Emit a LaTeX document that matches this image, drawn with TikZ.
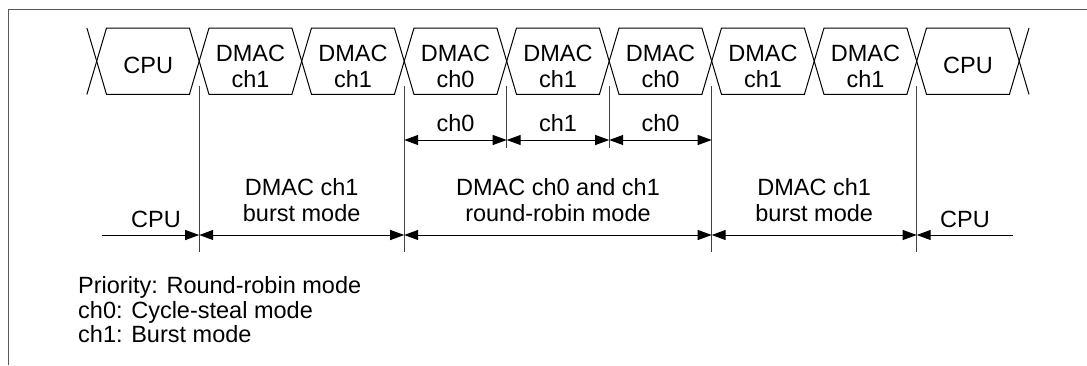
\documentclass[tikz,border=0pt]{standalone}
\usepackage{fontspec}
\setmainfont{Liberation Sans}
\usetikzlibrary{arrows.meta,calc}
\begin{document}
\begin{tikzpicture}[x=1pt,y=-1pt,
  frame/.style={draw=black!65, line width=1.3pt},
  wave/.style={draw=black, line width=1pt, line join=miter},
  tick/.style={draw=black!75, line width=1pt},
  lbl/.style={inner sep=0pt, font=\fontsize{23.5}{26.4}\selectfont, align=center},
  legend/.style={inner sep=0pt, font=\fontsize{23.5}{24.5}\selectfont, align=left},
  tip/.tip={Triangle[length=14pt,width=10pt]},
  dim/.style={draw=black, line width=1pt, tip-tip},
  dimr/.style={draw=black, line width=1pt, -tip},
  diml/.style={draw=black, line width=1pt, tip-}
]
\useasboundingbox (0,0) rectangle (1087,365);
\draw[frame] (8.3,365) -- (8.3,9.3) -- (1087,9.3);

% crossing points of the bus waveform
\foreach \k in {0,...,9}
  \coordinate (c\k) at ({96.7+102.5*\k},61.2);

% bus segments
\foreach \k [evaluate=\k as \n using int(\k+1)] in {0,...,8}
  \draw[wave] (c\k) -- ($(c\k)+(9.8,-33.2)$) -- ($(c\n)+(-9.8,-33.2)$) -- (c\n)
      -- ($(c\n)+(-9.8,33.2)$) -- ($(c\k)+(9.8,33.2)$) -- cycle;
\draw[wave] ($(c0)+(-9.8,-33.2)$) -- (c0) -- ($(c0)+(-9.8,33.2)$);
\draw[wave] ($(c9)+(9.8,-33.2)$) -- (c9) -- ($(c9)+(9.8,33.2)$);

% segment labels (base = baseline of the last line)
\node[lbl, anchor=base] (s1) at (148.3,73.3) {CPU};
\node[lbl, anchor=base] (s2) at (250.5,87.4) {DMAC\\ch1};
\node[lbl, anchor=base] (s3) at (353,87.4) {DMAC\\ch1};
\node[lbl, anchor=base] (s4) at (455.5,87.4) {DMAC\\ch0};
\node[lbl, anchor=base] (s5) at (558,87.4) {DMAC\\ch1};
\node[lbl, anchor=base] (s6) at (660.5,87.4) {DMAC\\ch0};
\node[lbl, anchor=base] (s7) at (763,87.4) {DMAC\\ch1};
\node[lbl, anchor=base] (s8) at (865.5,87.4) {DMAC\\ch1};
\node[lbl, anchor=base] (s9) at (968,73.3) {CPU};

% vertical marker lines
\foreach \k in {1,3,4,5,6,8} {
  \path (c\k) ++(0,24.8) coordinate (t\k);
  \path (c\k) ++(0,78.8) coordinate (i\k);
  \path (c\k) ++(0,173.8) coordinate (m\k);
}
\foreach \k in {1,3,6,8}
  \path (c\k) ++(0,190.8) coordinate (b\k);
\foreach \k in {4,5}
  \path (c\k) ++(0,86.8) coordinate (b\k);
\foreach \k in {1,3,4,5,6,8}
  \draw[tick] (t\k) -- (b\k);

% inner arrows (round-robin alternation)
\draw[dim] (i3) -- (i4);
\draw[dim] (i4) -- (i5);
\draw[dim] (i5) -- (i6);
\node[lbl, anchor=base] (a1) at (455.5,131) {ch0};
\node[lbl, anchor=base] (a2) at (558,131) {ch1};
\node[lbl, anchor=base] (a3) at (660.5,131) {ch0};

% mode arrows
\coordinate (cpuL) at (101.7,235);
\coordinate (cpuR) at (1013,235);
\draw[dimr] (cpuL) -- (m1);
\draw[dim] (m1) -- (m3);
\draw[dim] (m3) -- (m6);
\draw[dim] (m6) -- (m8);
\draw[diml] (m8) -- (cpuR);
\node[lbl, anchor=base] (p1) at (156,227.7) {CPU};
\node[lbl, anchor=base] (p2) at (301.7,221.6) {DMAC ch1\\burst mode};
\node[lbl, anchor=base] (p3) at (558,221.6) {DMAC ch0 and ch1\\round-robin mode};
\node[lbl, anchor=base] (p4) at (814.2,221.6) {DMAC ch1\\burst mode};
\node[lbl, anchor=base] (p5) at (965,227.7) {CPU};

% legend
\node[legend, anchor=base west] (lg) at (78,342.5) {Priority: Round-robin mode\\ch0: Cycle-steal mode\\ch1: Burst mode};
\end{tikzpicture}
\end{document}
